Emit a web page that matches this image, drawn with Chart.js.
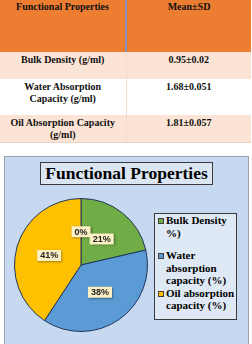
<!DOCTYPE html>
<html>
<head>
<meta charset="utf-8">
<script src="https://cdn.jsdelivr.net/npm/chart.js@4.4.0/dist/chart.umd.min.js"></script>
<style>
  body { margin: 0; background: #fff; width: 252px; height: 344px; overflow: hidden; position: relative; }
  #props { position: absolute; left: 0; top: 0; width: 251px; border-collapse: collapse; table-layout: fixed;
    font: bold 10px "Liberation Serif", "Times New Roman", serif; color: #111; }
  #props td { text-align: center; vertical-align: top; padding: 1px 6px 0 6px; line-height: 12px; }
  #props tr.head td { background: #ED7D31; height: 51px; }
  #props tr.head td:first-child { border-right: 2px solid #8A8DB8; }
  #props tr.odd td { background: #FBE4D5; }
  #props tr.even td { background: #fff; }
  #props tr.body td { padding-top: 2px; }
  #props tr.body td:first-child { border-right: 1px solid #F1DCD0; }
  #props tr:last-child td { border-bottom: 1px solid #EBD4C6; }
  #panel { position: absolute; left: 4px; top: 156px; width: 245px; height: 200px; box-sizing: border-box;
    background: #C6D9F0; border: 1px solid #9BA3AE; }
  #title { position: absolute; left: 35px; top: 5px; width: 173px; height: 23px; box-sizing: border-box;
    background: #DCE6F2; border: 1px solid #3A3A3A; text-align: center; line-height: 21px;
    font: bold 17.5px "Liberation Serif", "Times New Roman", serif; color: #000; }
  #pie { position: absolute; left: 6px; top: 38px; }
  #legend { position: absolute; left: 149px; top: 56px; width: 83px; height: 107px; box-sizing: border-box;
    background: #DFE9F5; border: 1px solid #3A3A3A; font: bold 11px "Liberation Serif", "Times New Roman", serif;
    color: #000; line-height: 12.5px; }
  .item { position: relative; padding-left: 11px; width: 71px; }
  .item:first-child { margin-bottom: 10px; }
  .swatch { position: absolute; left: 3px; top: 4px; width: 6px; height: 6px; box-sizing: border-box; border: 1px solid #404040; }
</style>
</head>
<body>
<table id="props"><colgroup><col style="width:126px"><col style="width:125px"></colgroup></table>
<div id="panel">
  <div id="title">Functional Properties</div>
  <canvas id="pie" width="140" height="140"></canvas>
  <div id="legend"></div>
</div>
<script>
// table data
const propNames = ['Bulk Density (g/ml)', 'Water Absorption Capacity (g/ml)', 'Oil Absorption Capacity (g/ml)'];
const means = ['0.95', '1.68', '1.81'];
const sds = ['0.02', '0.051', '0.057'];

// pie data (first slice is the empty 0% one)
const pieLabels = ['', 'Bulk Density %)', 'Water absorption capacity (%)', 'Oil absorption capacity (%)'];
const pieValues = [0, 0.95, 1.68, 1.81];
const pieColors = ['#A5A5A5', '#70AD47', '#5B9BD5', '#FFC000'];

const table = document.getElementById('props');
let head = document.createElement('tr');
head.className = 'head';
head.innerHTML = '<td>Functional Properties</td><td>Mean\u00B1SD</td>';
table.appendChild(head);
propNames.forEach(function(name, i) {
  const row = document.createElement('tr');
  row.className = 'body ' + (i % 2 === 0 ? 'odd' : 'even');
  row.innerHTML = `<td>${name}</td><td>${means[i]}\u00B1${sds[i]}</td>`;
  row.style.height = (i === 1 ? 36 : 27) + 'px';
  table.appendChild(row);
});

// legend
const legend = document.getElementById('legend');
pieLabels.forEach(function(label, i) {
  if (!label) return;
  const item = document.createElement('div');
  item.className = 'item';
  item.innerHTML = `<span class="swatch" style="background:${pieColors[i]}"></span>${label}`;
  legend.appendChild(item);
});

// percentage boxes on the slices
const pctLabels = {
  id: 'pctLabels',
  afterDatasetsDraw(chart) {
    const ctx = chart.ctx;
    const data = chart.data.datasets[0].data;
    const total = data.reduce((a, b) => a + b, 0);
    chart.getDatasetMeta(0).data.forEach(function(arc, i) {
      const text = Math.round(data[i] / total * 100) + '%';
      const p = arc.getCenterPoint();
      ctx.save();
      ctx.font = 'bold 9px "Liberation Sans", Arial, sans-serif';
      const w = ctx.measureText(text).width + 6;
      const h = 11;
      ctx.shadowColor = 'rgba(0,0,0,0.35)';
      ctx.shadowOffsetX = 1;
      ctx.shadowOffsetY = 1;
      ctx.shadowBlur = 2;
      ctx.fillStyle = '#FCEFC4';
      ctx.fillRect(p.x - w / 2, p.y - h / 2, w, h);
      ctx.shadowColor = 'transparent';
      ctx.fillStyle = '#222';
      ctx.textAlign = 'center';
      ctx.textBaseline = 'middle';
      ctx.fillText(text, p.x, p.y + 0.5);
      ctx.restore();
    });
  }
};

new Chart(document.getElementById('pie'), {
  type: 'pie',
  data: {
    labels: pieLabels,
    datasets: [{
      data: pieValues,
      backgroundColor: pieColors,
      borderColor: '#22355A',
      borderWidth: 1
    }]
  },
  options: {
    responsive: false,
    animation: false,
    devicePixelRatio: 1,
    layout: { padding: 3 },
    plugins: {
      legend: { display: false },
      title: { display: false },
      tooltip: { enabled: false }
    }
  },
  plugins: [pctLabels]
});
</script>
</body>
</html>
